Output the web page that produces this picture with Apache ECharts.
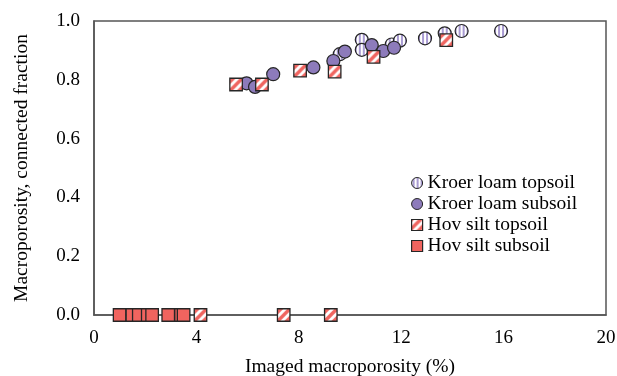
<!DOCTYPE html>
<html>
<head>
<meta charset="utf-8">
<script src="https://cdn.jsdelivr.net/npm/echarts@6/dist/echarts.min.js"></script>
<style>html,body{margin:0;padding:0;background:#fff}#c{width:617px;height:376px}</style>
</head>
<body>
<div id="c"></div>
<script>
// ---- data ----
var seriesNames = ['Kroer loam topsoil', 'Kroer loam subsoil', 'Hov silt topsoil', 'Hov silt subsoil'];
var kroerTopX = [9.6, 10.46, 10.46, 11.63, 11.95, 12.93, 13.7, 14.36, 15.9];
var kroerTopY = [0.887, 0.936, 0.902, 0.92, 0.933, 0.941, 0.958, 0.966, 0.966];
var kroerSubX = [5.96, 6.29, 7.0, 8.57, 9.35, 9.8, 10.85, 11.3, 11.72];
var kroerSubY = [0.788, 0.776, 0.819, 0.842, 0.864, 0.896, 0.918, 0.898, 0.909];
var hovTopX = [4.16, 7.41, 9.25, 5.55, 6.56, 8.05, 9.4, 10.92, 13.76];
var hovTopY = [0, 0, 0, 0.784, 0.784, 0.831, 0.828, 0.878, 0.935];
var hovSubX = [1.0, 1.5, 1.75, 2.1, 2.27, 2.9, 3.4, 3.5];
var hovSubY = [0, 0, 0, 0, 0, 0, 0, 0];
var xTicks = [0, 4, 8, 12, 16, 20];
var yTicks = [0.0, 0.2, 0.4, 0.6, 0.8, 1.0];

function zip(xs, ys) { return xs.map(function (x, i) { return [x, ys[i]]; }); }

var PURPLE = '#8d7bbb';
var LIGHTPURPLE = '#a99bd2';
var RED = '#f0645f';
var EDGE = '#262626';

function stripeCanvas() {
  var c = document.createElement('canvas');
  c.width = 4; c.height = 4;
  var g = c.getContext('2d');
  g.fillStyle = '#fff'; g.fillRect(0, 0, 4, 4);
  g.fillStyle = LIGHTPURPLE; g.fillRect(1, 0, 2, 4);
  return c;
}
function hatchCanvas() {
  var s = 9;
  var c = document.createElement('canvas');
  c.width = s; c.height = s;
  var g = c.getContext('2d');
  g.fillStyle = '#fff'; g.fillRect(0, 0, s, s);
  g.strokeStyle = RED; g.lineWidth = 3.4;
  g.beginPath();
  g.moveTo(-2, s + 2); g.lineTo(s + 2, -2);
  g.moveTo(-3, 3); g.lineTo(3, -3);
  g.moveTo(s - 3, s + 3); g.lineTo(s + 3, s - 3);
  g.stroke();
  return c;
}
var circleSize = 13, squareSize = 12.5;
function pat(canvas, sz) {
  var k = sz ? 2 / sz : 1;
  return { image: canvas, repeat: 'repeat', scaleX: k, scaleY: k };
}
var stripes = stripeCanvas(), hatch = hatchCanvas();

var chart = echarts.init(document.getElementById('c'), null, { renderer: 'canvas' });
var serif = 'Liberation Serif, Times New Roman, serif';
chart.setOption({
  animation: false,
  grid: { left: 94, right: 11, top: 21, bottom: 61, show: true, borderColor: '#555', borderWidth: 1.5,
    backgroundColor: 'transparent', containLabel: false, outerBoundsMode: 'none' },
  legend: {
    orient: 'vertical', left: 411, top: 173, padding: 0,
    itemWidth: 11, itemHeight: 11, itemGap: 1,
    textStyle: { fontFamily: serif, fontSize: 19.5, color: '#000' },
    data: [
      { name: seriesNames[0], icon: 'circle', itemStyle: { color: pat(stripes), borderColor: EDGE, borderWidth: 1 } },
      { name: seriesNames[1], icon: 'circle', itemStyle: { color: PURPLE, borderColor: EDGE, borderWidth: 1 } },
      { name: seriesNames[2], icon: 'rect', itemStyle: { color: pat(hatch), borderColor: EDGE, borderWidth: 1.2 } },
      { name: seriesNames[3], icon: 'rect', itemStyle: { color: RED, borderColor: EDGE, borderWidth: 1.2 } }
    ]
  },
  xAxis: {
    type: 'value', min: 0, max: 20, interval: 4,
    name: 'Imaged macroporosity (%)', nameLocation: 'middle', nameGap: 42,
    nameTextStyle: { fontFamily: serif, fontSize: 19.5, color: '#000' },
    axisLine: { show: true, lineStyle: { color: '#555', width: 1.5 } },
    axisTick: { show: false }, splitLine: { show: false },
    axisLabel: { margin: 14, fontFamily: serif, fontSize: 19, color: '#000',
      formatter: function (v) { return xTicks.indexOf(v) >= 0 ? String(v) : ''; } }
  },
  yAxis: {
    type: 'value', min: 0, max: 1, interval: 0.2,
    name: 'Macroporosity, connected fraction', nameLocation: 'middle', nameGap: 62,
    nameTextStyle: { fontFamily: serif, fontSize: 19.5, color: '#000' },
    axisLine: { show: true, lineStyle: { color: '#555', width: 1.5 } },
    axisTick: { show: false }, splitLine: { show: false },
    axisLabel: { margin: 14, fontFamily: serif, fontSize: 19, color: '#000',
      formatter: function (v) { return v.toFixed(1); } }
  },
  series: [
    { name: seriesNames[0], type: 'scatter', symbol: 'circle', symbolSize: circleSize, data: zip(kroerTopX, kroerTopY),
      itemStyle: { color: pat(stripes, circleSize), borderColor: EDGE, borderWidth: 1.2, opacity: 1 }, emphasis: { disabled: true } },
    { name: seriesNames[1], type: 'scatter', symbol: 'circle', symbolSize: circleSize, data: zip(kroerSubX, kroerSubY),
      itemStyle: { color: PURPLE, borderColor: EDGE, borderWidth: 1.2, opacity: 1 }, emphasis: { disabled: true } },
    { name: seriesNames[2], type: 'scatter', symbol: 'rect', symbolSize: squareSize, data: zip(hovTopX, hovTopY),
      itemStyle: { color: pat(hatch, squareSize), borderColor: EDGE, borderWidth: 1.3, opacity: 1 }, emphasis: { disabled: true } },
    { name: seriesNames[3], type: 'scatter', symbol: 'rect', symbolSize: squareSize, data: zip(hovSubX, hovSubY),
      itemStyle: { color: RED, borderColor: EDGE, borderWidth: 1.3, opacity: 1 }, emphasis: { disabled: true } }
  ]
});
</script>
</body>
</html>
